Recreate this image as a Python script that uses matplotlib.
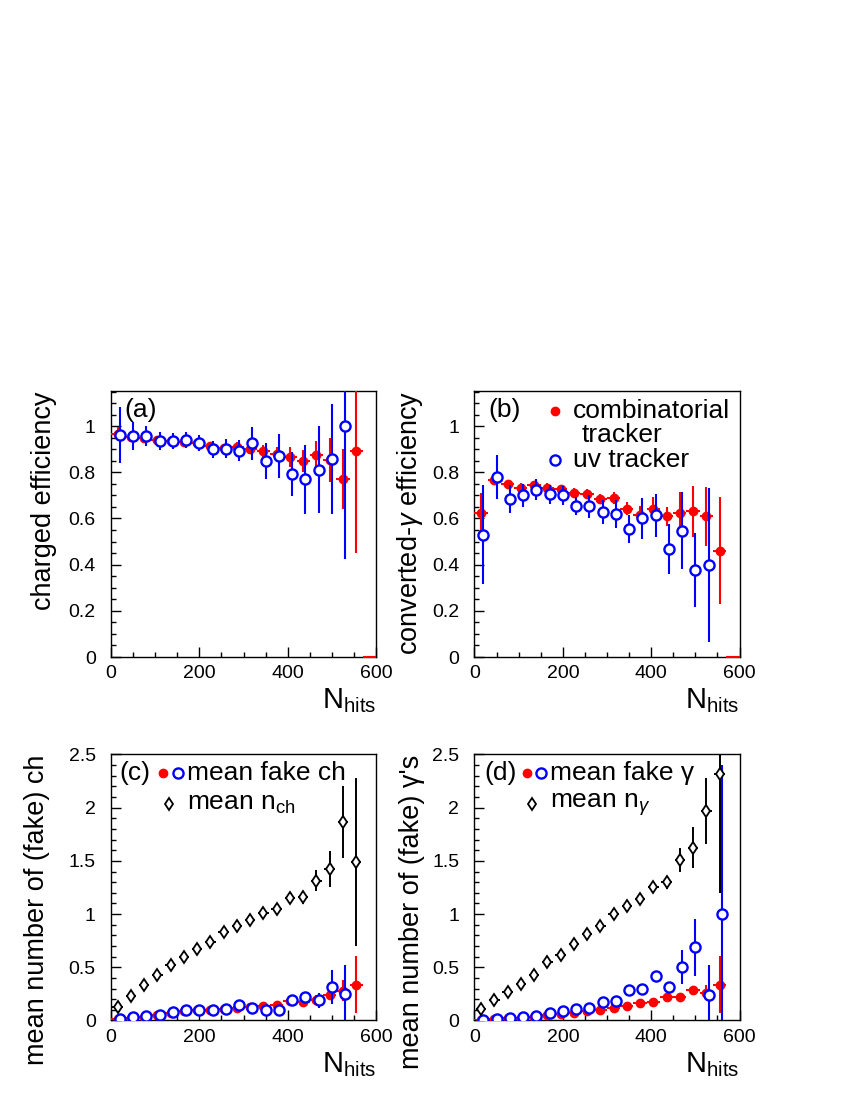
import numpy as np
import matplotlib
matplotlib.use('Agg')
import matplotlib.pyplot as plt
from matplotlib.ticker import MultipleLocator, FuncFormatter

plt.rcParams['font.family'] = ['Liberation Sans', 'DejaVu Sans']
plt.rcParams['mathtext.fontset'] = 'custom'
plt.rcParams['mathtext.rm'] = 'Liberation Sans'
plt.rcParams['mathtext.it'] = 'Liberation Sans:italic'

# bin centres (30 hits wide), uv tracker points shifted by +5
bin_x = np.arange(15, 600, 30)          # 15 ... 585
half_bin = 15.0

# (a) charged efficiency
red_a = [0.965, 0.951, 0.949, 0.942, 0.936, 0.932, 0.925, 0.914, 0.906, 0.910,
         0.900, 0.893, 0.881, 0.866, 0.849, 0.874, 0.855, 0.770, 0.891, 0.0]
red_a_err = [0.03, 0.02, 0.015, 0.015, 0.015, 0.015, 0.015, 0.015, 0.018, 0.02,
             0.022, 0.025, 0.03, 0.043, 0.047, 0.06, 0.095, 0.13, 0.44, 0.0]
blue_a = [0.961, 0.958, 0.957, 0.936, 0.935, 0.939, 0.928, 0.899, 0.903, 0.893,
          0.925, 0.849, 0.870, 0.791, 0.770, 0.812, 0.858, 1.0]
blue_a_err = [0.12, 0.06, 0.045, 0.04, 0.035, 0.035, 0.035, 0.035, 0.04, 0.045,
              0.072, 0.08, 0.095, 0.095, 0.15, 0.19, 0.24, 0.575]

# (b) converted-gamma efficiency
red_b = [0.623, 0.768, 0.748, 0.733, 0.743, 0.733, 0.726, 0.710, 0.707, 0.686,
         0.688, 0.643, 0.617, 0.642, 0.609, 0.623, 0.632, 0.610, 0.461, 0.0]
red_b_err = [0.087, 0.025, 0.02, 0.02, 0.02, 0.02, 0.02, 0.02, 0.02, 0.022,
             0.025, 0.028, 0.035, 0.05, 0.04, 0.09, 0.11, 0.127, 0.23, 0.0]
blue_b = [0.530, 0.780, 0.684, 0.700, 0.725, 0.704, 0.700, 0.654, 0.652, 0.628,
          0.620, 0.554, 0.600, 0.613, 0.468, 0.548, 0.378, 0.399]
blue_b_err = [0.215, 0.095, 0.06, 0.05, 0.045, 0.04, 0.04, 0.04, 0.05, 0.05,
              0.06, 0.06, 0.09, 0.095, 0.11, 0.165, 0.16, 0.335]

# (c) fake charged / mean n_ch
black_c = [0.125, 0.228, 0.331, 0.425, 0.519, 0.597, 0.675, 0.734, 0.828, 0.884,
           0.941, 1.009, 1.05, 1.15, 1.156, 1.3125, 1.42, 1.8625, 1.49]
black_c_err = [0.045, 0.045, 0.045, 0.045, 0.045, 0.045, 0.045, 0.045, 0.045, 0.045,
               0.045, 0.045, 0.05, 0.05, 0.06, 0.10, 0.17, 0.34, 0.79]
red_c = [0.01, 0.025, 0.034, 0.05, 0.069, 0.0875, 0.097, 0.103, 0.11, 0.119,
         0.128, 0.14, 0.15, 0.1875, 0.175, 0.197, 0.244, 0.281, 0.3375]
red_c_err = [0.005, 0.005, 0.005, 0.008, 0.008, 0.01, 0.01, 0.01, 0.012, 0.015,
             0.015, 0.02, 0.02, 0.025, 0.03, 0.04, 0.05, 0.1, 0.27]
blue_c = [0.016, 0.031, 0.04, 0.056, 0.075, 0.094, 0.097, 0.103, 0.1125, 0.15,
          0.119, 0.103, 0.103, 0.19, 0.219, 0.19, 0.3125, 0.25]
blue_c_err = [0.01, 0.01, 0.01, 0.01, 0.01, 0.012, 0.012, 0.015, 0.018, 0.02,
              0.02, 0.02, 0.025, 0.03, 0.04, 0.07, 0.16, 0.27]

# (d) fake gamma / mean n_gamma
black_d = [0.109, 0.19, 0.269, 0.347, 0.431, 0.547, 0.619, 0.719, 0.816, 0.884,
           1.003, 1.078, 1.144, 1.259, 1.30, 1.509, 1.625, 1.97, 2.32]
black_d_err = [0.045, 0.045, 0.045, 0.045, 0.045, 0.045, 0.045, 0.045, 0.045, 0.045,
               0.045, 0.045, 0.05, 0.05, 0.06, 0.11, 0.19, 0.31, 1.12]
red_d = [0.006, 0.0125, 0.019, 0.025, 0.034, 0.05, 0.0625, 0.072, 0.0875, 0.094,
         0.119, 0.134, 0.1625, 0.175, 0.219, 0.219, 0.2875, 0.259, 0.3375]
red_d_err = [0.004, 0.004, 0.005, 0.005, 0.006, 0.007, 0.008, 0.009, 0.01, 0.012,
             0.014, 0.016, 0.018, 0.02, 0.025, 0.03, 0.04, 0.07, 0.27]
blue_d = [0.006, 0.0125, 0.019, 0.031, 0.041, 0.069, 0.0875, 0.109, 0.116, 0.169,
          0.1875, 0.284, 0.297, 0.416, 0.3125, 0.50, 0.6875, 0.244, 1.0]
blue_d_err = [0.005, 0.005, 0.008, 0.01, 0.01, 0.012, 0.015, 0.018, 0.02, 0.025,
              0.03, 0.035, 0.04, 0.05, 0.05, 0.16, 0.27, 0.28, 1.4]

RED = '#ff0000'
BLUE = '#0000ff'
LEG_FS = 19


def fmt_tick(v, pos):
    return '%g' % round(v, 3)


def setup(ax, ymax, ymajor, yminor, ylabel, ylab_x):
    ax.set_xlim(0, 600)
    ax.set_ylim(0, ymax)
    ax.xaxis.set_major_locator(MultipleLocator(200))
    ax.xaxis.set_minor_locator(MultipleLocator(50))
    ax.yaxis.set_major_locator(MultipleLocator(ymajor))
    ax.yaxis.set_minor_locator(MultipleLocator(yminor))
    ax.yaxis.set_major_formatter(FuncFormatter(fmt_tick))
    ax.tick_params(which='both', direction='in', top=False, right=False,
                   labelsize=14, width=1)
    ax.tick_params(which='major', length=7)
    ax.tick_params(which='minor', length=3.5)
    ax.tick_params(axis='x', pad=6)
    ax.tick_params(axis='y', pad=11)
    for s in ax.spines.values():
        s.set_linewidth(1.0)
    ax.set_xlabel(r'N$_{\rm hits}$', fontsize=21, loc='right')
    ax.xaxis.set_label_coords(1.0, -0.11)
    ax.set_ylabel(ylabel, fontsize=19.5, loc='top')
    ax.yaxis.set_label_coords(ylab_x, 1.0)


def draw_red(ax, y, yerr):
    x = bin_x[:len(y)]
    y = np.array(y)
    yerr = np.array(yerr)
    m = y > 0
    ax.errorbar(x[m], y[m], yerr=yerr[m], xerr=half_bin, fmt='o', color=RED,
                ms=6, elinewidth=1.5, capsize=0, zorder=3)
    if (~m).any():
        ax.errorbar(x[~m], y[~m], xerr=half_bin, fmt='none', ecolor=RED,
                    elinewidth=1.5, capsize=0, clip_on=False, zorder=4)


def draw_blue(ax, y, yerr):
    x = bin_x[:len(y)] + 5
    ax.errorbar(x, y, yerr=yerr, fmt='o', color=BLUE, mfc='white', mec=BLUE,
                mew=1.7, ms=7.3, elinewidth=1.5, capsize=0, zorder=4)


def draw_black(ax, y, yerr):
    x = bin_x[:len(y)]
    ax.errorbar(x, y, yerr=yerr, xerr=half_bin * 0.8, fmt='d', color='black',
                mfc='white', mec='black', mew=1.3, ms=6, elinewidth=1.4,
                capsize=0, zorder=5)


fig = plt.figure(figsize=(8.5, 11), dpi=100)
w = 0.3118
h = 0.2418
ax_a = fig.add_axes([0.1306, 0.4027, w, h])
ax_b = fig.add_axes([0.5582, 0.4027, w, h])
ax_c = fig.add_axes([0.1306, 0.0723, w, h])
ax_d = fig.add_axes([0.5582, 0.0723, w, h])

# (a)
setup(ax_a, 1.152, 0.2, 0.05, 'charged efficiency', -0.205)
draw_red(ax_a, red_a, red_a_err)
draw_blue(ax_a, blue_a, blue_a_err)
ax_a.text(0.05, 0.929, '(a)', transform=ax_a.transAxes, fontsize=LEG_FS,
          ha='left', va='center')

# (b)
setup(ax_b, 1.152, 0.2, 0.05, r'converted-$\gamma$ efficiency', -0.185)
draw_red(ax_b, red_b, red_b_err)
draw_blue(ax_b, blue_b, blue_b_err)
ax_b.text(0.052, 0.929, '(b)', transform=ax_b.transAxes, fontsize=LEG_FS,
          ha='left', va='center')
ax_b.plot([0.304], [0.925], 'o', color=RED, ms=6, transform=ax_b.transAxes,
          clip_on=False)
ax_b.text(0.372, 0.925, 'combinatorial', transform=ax_b.transAxes,
          fontsize=LEG_FS, ha='left', va='center')
ax_b.plot([0.304], [0.741], 'o', mfc='white', mec=BLUE, mew=1.7, ms=7.3,
          transform=ax_b.transAxes, clip_on=False)
ax_b.text(0.406, 0.835, 'tracker', transform=ax_b.transAxes,
          fontsize=LEG_FS, ha='left', va='center')
ax_b.text(0.372, 0.741, 'uv tracker', transform=ax_b.transAxes,
          fontsize=LEG_FS, ha='left', va='center')

# (c)
setup(ax_c, 2.5, 0.5, 0.1, 'mean number of (fake) ch', -0.23)
draw_red(ax_c, red_c, red_c_err)
draw_blue(ax_c, blue_c, blue_c_err)
draw_black(ax_c, black_c, black_c_err)

# (d)
setup(ax_d, 2.5, 0.5, 0.1, "mean number of (fake) γ's", -0.185)
draw_red(ax_d, red_d, red_d_err)
draw_blue(ax_d, blue_d, blue_d_err)
draw_black(ax_d, black_d, black_d_err)

legend_c = ['(c)', 'mean fake ch', r'mean n$_{\rm ch}$']
legend_d = ['(d)', 'mean fake γ', r'mean n$_{\gamma}$']
for ax, labels, lx in [(ax_c, legend_c, 0.032), (ax_d, legend_d, 0.038)]:
    ax.text(lx, 0.929, labels[0], transform=ax.transAxes, fontsize=LEG_FS,
            ha='left', va='center')
    ax.plot([0.198], [0.929], 'o', color=RED, ms=6, transform=ax.transAxes,
            clip_on=False)
    ax.plot([0.252], [0.929], 'o', mfc='white', mec=BLUE, mew=1.7, ms=7.3,
            transform=ax.transAxes, clip_on=False)
    ax.text(0.285, 0.929, labels[1], transform=ax.transAxes, fontsize=LEG_FS,
            ha='left', va='center')
    ax.plot([0.218], [0.812], 'd', mfc='white', mec='black', mew=1.3, ms=6,
            transform=ax.transAxes, clip_on=False)
    ax.text(0.285, 0.812, labels[2], transform=ax.transAxes, fontsize=LEG_FS,
            ha='left', va='center')

fig.savefig('out.png', dpi=100)
